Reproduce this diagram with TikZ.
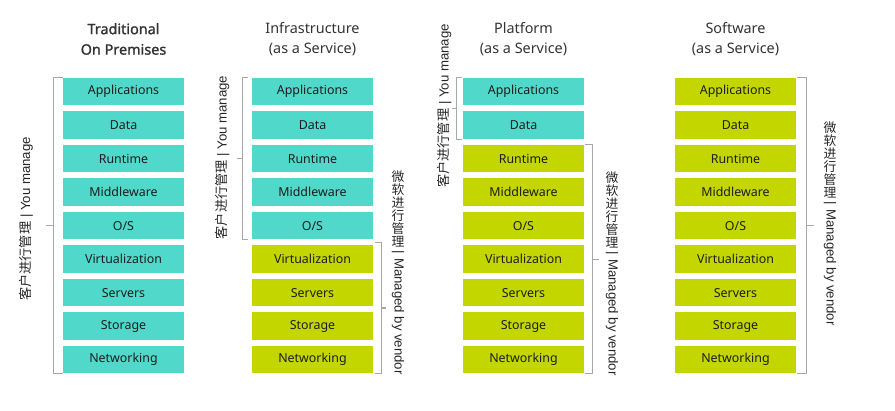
\documentclass[tikz,border=0pt]{standalone}
\usepackage{fontspec}
\setmainfont{Noto Sans}
\newfontfamily\headbold[FakeBold=1.4]{Noto Sans}
\newfontfamily\labelfont{Liberation Sans}
\newfontfamily\cjk{Noto Sans CJK SC}
\usetikzlibrary{calc}
\definecolor{owncol}{HTML}{50D8CA}
\definecolor{vendorcol}{HTML}{C3D600}
\definecolor{bracketcol}{HTML}{A8A8A8}
\definecolor{inkcol}{HTML}{1E1E1E}

\begin{document}
\begin{tikzpicture}[x=1pt, y=-1pt,
	tile/.style={minimum width=121pt, minimum height=27.5pt, inner sep=0pt, text=inkcol, font=\fontsize{12.4}{14}\selectfont},
	heading/.style={align=center, text=black!80, font=\fontsize{14.4}{20.5}\selectfont},
	bracket/.style={draw=bracketcol, line width=1.3pt},
	sidelabel/.style={inner sep=0pt, text=black!85, font=\labelfont\fontsize{13.2}{14}\selectfont},
	cjkstack/.style={inner sep=0pt, align=center, text=black!85, font=\cjk\fontsize{12.8}{13}\selectfont}]
			%%%%% START %%%%%
			
			\useasboundingbox (0,0) rectangle (895,411);
			
			\node[heading, font=\headbold\fontsize{14.4}{20.5}\selectfont] (trad-head) at (123.5, 39) {Traditional\\On Premises};
			\node[heading] (iaas-head) at (312.5, 39) {Infrastructure\\(as a Service)};
			\node[heading] (paas-head) at (523.5, 39) {Platform\\(as a Service)};
			\node[heading] (saas-head) at (735.5, 39) {Software\\(as a Service)};
			
			\foreach \lab [count=\r from 0] in {Applications,Data,Runtime,Middleware,O/S,Virtualization,Servers,Storage,Networking} {
				\ifnum\r<5 \def\iaasfill{owncol}\else\def\iaasfill{vendorcol}\fi
				\ifnum\r<2 \def\paasfill{owncol}\else\def\paasfill{vendorcol}\fi
				\node[tile, fill=owncol] (trad-\r) at (123.5, 91.75+33.5*\r) {\lab};
				\node[tile, fill=\iaasfill] (iaas-\r) at (312.5, 91.75+33.5*\r) {\lab};
				\node[tile, fill=\paasfill] (paas-\r) at (523.5, 91.75+33.5*\r) {\lab};
				\node[tile, fill=vendorcol] (saas-\r) at (735.5, 91.75+33.5*\r) {\lab};
			}
			
			% you manage
			\draw[bracket] (trad-0.north west) -- ++(-9,0) |- (trad-8.south west);
			\draw[bracket] ($(trad-0.north west)!0.5!(trad-8.south west)+(-9,0)$) -- ++(-8,0);
			\node[sidelabel, rotate=90] (trad-own) at (26, 219) {{\cjk 客户进行管理} | You manage};
			
			\draw[bracket] ([xshift=-4pt]iaas-0.north west) -- ++(-5,0) |- ([xshift=-4pt]iaas-4.south west);
			\draw[bracket] ($(iaas-0.north west)!0.5!(iaas-4.south west)+(-9,0)$) -- ++(-6,0);
			\node[sidelabel, rotate=90] (iaas-own) at (222.5, 157.5) {{\cjk 客户进行管理} | You manage};
			
			\draw[bracket] ([xshift=-1pt]paas-0.north west) -- ++(-5,0) |- ([xshift=-1pt]paas-1.south west);
			\draw[bracket] ($(paas-0.north west)!0.5!(paas-1.south west)+(-6,0)$) -- ++(-5,0);
			\node[sidelabel, rotate=90] (paas-own) at (444.5, 106) {{\cjk 客户进行管理} | You manage};
			
			% managed by vendor
			\draw[bracket] ([xshift=2pt]$(iaas-4.south east)!0.5!(iaas-5.north east)$) -- ++(6,0) |- ([xshift=2pt]iaas-8.south east);
			\draw[bracket] ($(iaas-4.south east)!0.5!(iaas-5.north east)!0.5!(iaas-8.south east)+(8,0)$) -- ++(5,0);
			\node[cjkstack, anchor=north] (iaas-vcjk) at (398, 170.5) {微\\软\\进\\行\\管\\理};
			\node[sidelabel, rotate=-90, anchor=west] (iaas-vlat) at ([yshift=-3.5pt]iaas-vcjk.south) {| Managed by vendor};
			
			\draw[bracket] ([xshift=1pt]paas-2.north east) -- ++(7,0) |- ([xshift=1pt]paas-8.south east);
			\draw[bracket] ($(paas-2.north east)!0.5!(paas-8.south east)+(8,0)$) -- ++(7,0);
			\node[cjkstack, anchor=north] (paas-vcjk) at (612, 171.5) {微\\软\\进\\行\\管\\理};
			\node[sidelabel, rotate=-90, anchor=west] (paas-vlat) at ([yshift=-3.5pt]paas-vcjk.south) {| Managed by vendor};
			
			\draw[bracket] ([xshift=1pt]saas-0.north east) -- ++(9,0) |- ([xshift=1pt]saas-8.south east);
			\draw[bracket] ($(saas-0.north east)!0.5!(saas-8.south east)+(10,0)$) -- ++(8,0);
			\node[cjkstack, anchor=north] (saas-vcjk) at (830, 121.5) {微\\软\\进\\行\\管\\理};
			\node[sidelabel, rotate=-90, anchor=west] (saas-vlat) at ([yshift=-3.5pt]saas-vcjk.south) {| Managed by vendor};
			
			%%%%% END %%%%%
		\end{tikzpicture}
\end{document}
